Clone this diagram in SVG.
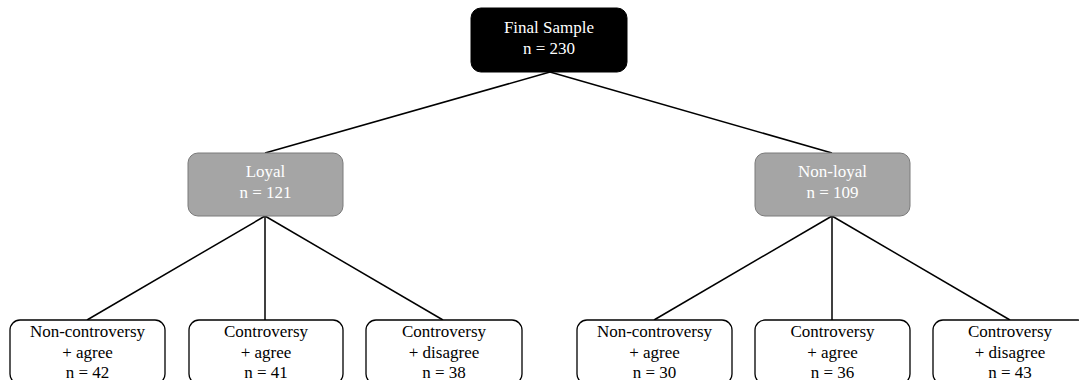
<svg xmlns="http://www.w3.org/2000/svg" width="1079" height="380" viewBox="0 0 1079 380">
<style>
text{font-family:"Liberation Serif","Times New Roman",serif;font-size:17px;text-anchor:middle}
.root rect{fill:#000;stroke:#000}
.root text{fill:#fff}
.mid rect{fill:#a5a5a5;stroke:#7a7a7a;stroke-width:1}
.mid text{fill:#fff}
.leaf rect{fill:#fff;stroke:#000;stroke-width:1.3}
.leaf text{fill:#000}
#connectors line{stroke:#000;stroke-width:1.5}
</style>
<rect width="1079" height="380" fill="#fff"/>
<g id="connectors">
<line x1="550" y1="72" x2="265" y2="153"/>
<line x1="550" y1="72" x2="832" y2="153"/>
<line x1="265" y1="216" x2="87" y2="320"/>
<line x1="265" y1="216" x2="265" y2="320"/>
<line x1="265" y1="216" x2="443" y2="320"/>
<line x1="832" y1="216" x2="654" y2="320"/>
<line x1="832" y1="216" x2="832" y2="320"/>
<line x1="832" y1="216" x2="1010" y2="320"/>
</g>
<g id="final" class="root"><rect x="471" y="8" width="156" height="64" rx="10"/><text x="549" y="33">Final Sample</text><text x="549" y="54">n = 230</text></g>
<g id="loyal" class="mid"><rect x="188" y="153" width="155" height="63" rx="10"/><text x="265.5" y="177">Loyal</text><text x="265.5" y="198">n = 121</text></g>
<g id="nonloyal" class="mid"><rect x="755" y="153" width="155" height="63" rx="10"/><text x="832.5" y="177">Non-loyal</text><text x="832.5" y="198">n = 109</text></g>
<g id="l1" class="leaf"><rect x="10" y="320" width="155" height="64" rx="10"/><text x="87.5" y="337">Non-controversy</text><text x="87.5" y="358">+ agree</text><text x="87.5" y="378">n = 42</text></g>
<g id="l2" class="leaf"><rect x="189" y="320" width="154" height="64" rx="10"/><text x="266" y="337">Controversy</text><text x="266" y="358">+ agree</text><text x="266" y="378">n = 41</text></g>
<g id="l3" class="leaf"><rect x="366" y="320" width="156" height="64" rx="10"/><text x="444" y="337">Controversy</text><text x="444" y="358">+ disagree</text><text x="444" y="378">n = 38</text></g>
<g id="n1" class="leaf"><rect x="577" y="320" width="155" height="64" rx="10"/><text x="654.5" y="337">Non-controversy</text><text x="654.5" y="358">+ agree</text><text x="654.5" y="378">n = 30</text></g>
<g id="n2" class="leaf"><rect x="755" y="320" width="155" height="64" rx="10"/><text x="832.5" y="337">Controversy</text><text x="832.5" y="358">+ agree</text><text x="832.5" y="378">n = 36</text></g>
<g id="n3" class="leaf"><rect x="933" y="320" width="155" height="64" rx="10"/><text x="1010" y="337">Controversy</text><text x="1010" y="358">+ disagree</text><text x="1010" y="378">n = 43</text></g>
</svg>
